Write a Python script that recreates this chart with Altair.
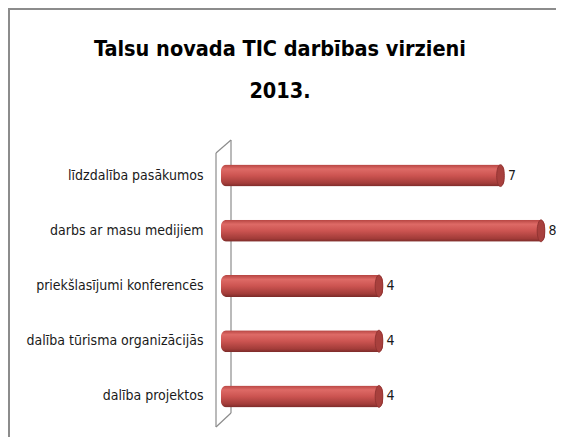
import altair as alt
import pandas as pd

categories = ["līdzdalība pasākumos", "darbs ar masu medijiem", "priekšlasījumi konferencēs",
              "dalība tūrisma organizācijās", "dalība projektos"]
values = [7, 8, 4, 4, 4]
title_lines = ["Talsu novada TIC darbības virzieni", "2013."]

df = pd.DataFrame({"cat": categories, "val": values})

W, H = 324, 276
FONT = "DejaVu Sans Condensed"

x = alt.X("val:Q", scale=alt.Scale(domain=[0, 8], nice=False), axis=None)
y = alt.Y("cat:N", sort=categories, scale=alt.Scale(paddingInner=0.6, paddingOuter=0.3),
          axis=alt.Axis(title=None, domain=False, ticks=False, grid=False, labelPadding=18,
                        labelFont=FONT, labelFontSize=14, labelColor="#1a1a1a", labelLimit=250))

grad = alt.Gradient(gradient="linear", x1=0, x2=0, y1=0, y2=1,
                    stops=[alt.GradientStop(offset=0, color="#b54441"),
                           alt.GradientStop(offset=0.2, color="#de6a66"),
                           alt.GradientStop(offset=0.5, color="#cc5451"),
                           alt.GradientStop(offset=0.85, color="#a23c39"),
                           alt.GradientStop(offset=1, color="#7a2a28")])

bars = alt.Chart(df).mark_bar(size=22, cornerRadius=6, fill=grad).encode(x=x, y=y)

caps = alt.Chart(df).mark_point(
    shape="M0,-1 A0.35,1 0 1,1 0,1 A0.35,1 0 1,1 0,-1 Z", size=480, filled=True,
    fill="#a8403d", stroke="#8a302e", strokeWidth=0.8, opacity=1, xOffset=-4
).encode(x=x, y=y)

labels = alt.Chart(df).mark_text(align="left", baseline="middle", dx=3.5, font=FONT,
                                 fontSize=14, color="#1a1a1a").encode(x=x, y=y, text="val:Q")

wall_pts = [(-5, 5, 10, -8), (10, -8, 10, 265), (10, 265, -5, 279), (-5, 279, -5, 5)]
wall = [alt.Chart(df.head(1)).mark_rule(color="#8c8c8c", strokeWidth=1.2).encode(
    x=alt.value(a), y=alt.value(b), x2=alt.value(c), y2=alt.value(d)) for a, b, c, d in wall_pts]

border = [
    alt.Chart(df.head(1)).mark_rule(color="#8c8c8c", strokeWidth=2).encode(
        x=alt.value(-213), y=alt.value(-139), x2=alt.value(400), y2=alt.value(-139)),
    alt.Chart(df.head(1)).mark_rule(color="#8c8c8c", strokeWidth=2).encode(
        x=alt.value(-212), y=alt.value(-140), x2=alt.value(-212), y2=alt.value(300)),
]

chart = alt.layer(*border, *wall, bars, caps, labels).properties(
    width=W, height=H,
    padding={"left": 213, "top": 140, "right": 11, "bottom": 13},
    autosize=alt.AutoSizeParams(type="none"),
    background="white",
    title=alt.TitleParams(text=title_lines, font=FONT, fontSize=21.5, fontWeight="bold",
                          color="#000", anchor="middle", dx=-103, offset=0, dy=95,
                          lineHeight=42),
).configure_view(stroke=None)

chart.save("out.html", embed_options={"renderer": "svg", "actions": False})
